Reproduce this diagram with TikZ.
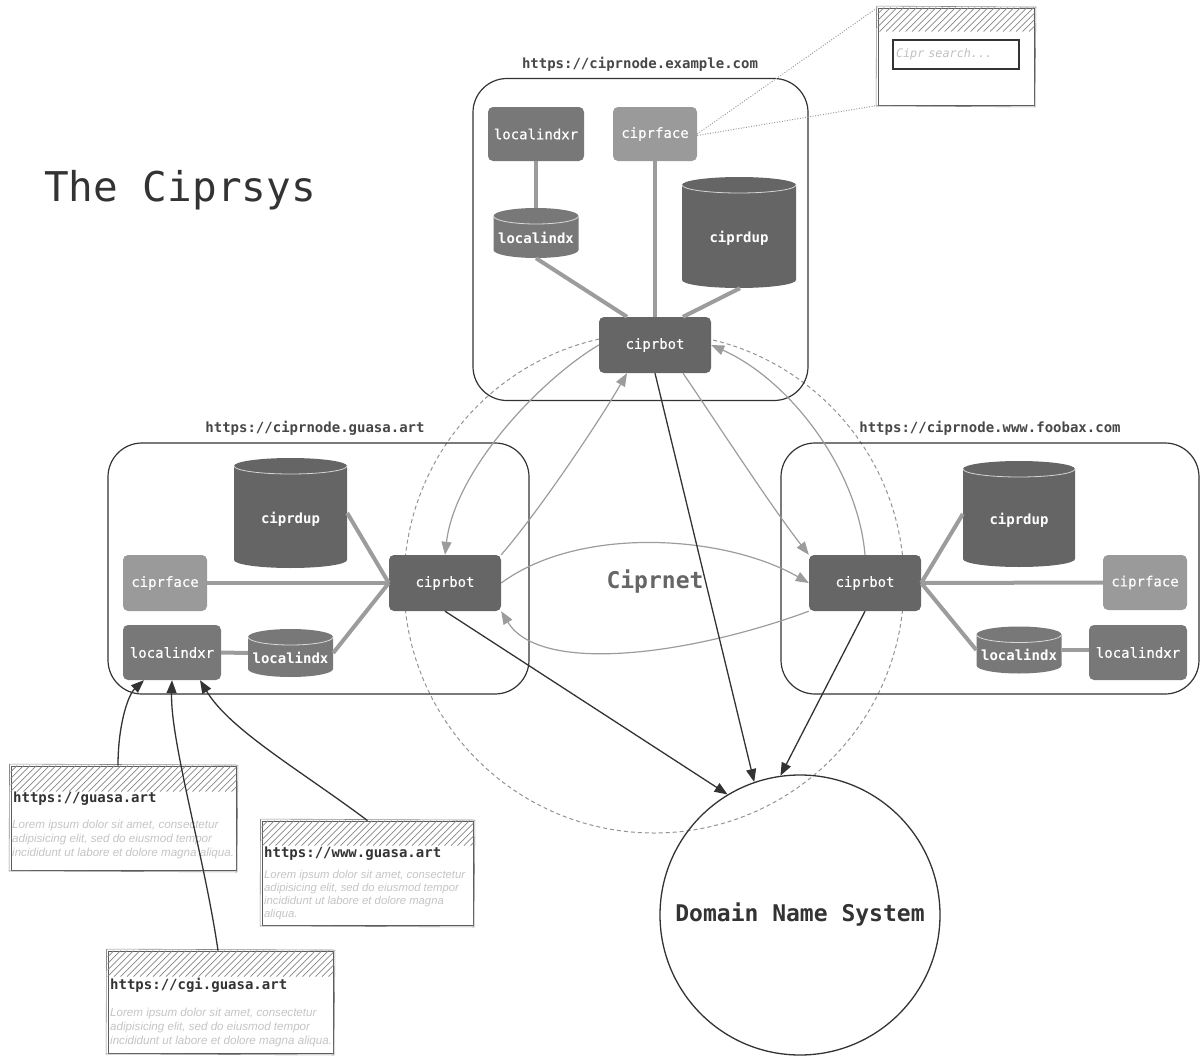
\documentclass[tikz,border=0pt]{standalone}
\usepackage{fontspec}
\setmonofont{DejaVu Sans Mono}
\newfontfamily\lorem{Liberation Sans}
\newfontfamily\labelfont[FakeBold=0.25]{DejaVu Sans Mono}
\usetikzlibrary{arrows.meta,calc}

\definecolor{ink}{HTML}{333333}
\definecolor{botgray}{HTML}{666666}
\definecolor{dupgray}{HTML}{656565}
\definecolor{idxgray}{HTML}{787878}
\definecolor{facegray}{HTML}{9A9A9A}
\definecolor{linkgray}{HTML}{9C9C9C}
\definecolor{faint}{HTML}{C4C4C4}

\tikzset{
  svc/.style n args={3}{rectangle, rounded corners=5pt, fill=#3, text=white,
    minimum width=#1pt, minimum height=#2pt, inner sep=0pt,
    font=\labelfont\fontsize{14}{16}\selectfont},
  store/.style n args={3}{rectangle, minimum width=#1pt, minimum height=#2pt,
    inner sep=0pt, text=white, text height=24pt, text depth=4pt,
    font=\ttfamily\bfseries\fontsize{14}{16}\selectfont,
    path picture={
      \fill[#3] ([yshift=-8pt]path picture bounding box.north west)
        -- ([yshift=8pt]path picture bounding box.south west)
        arc[start angle=180, end angle=360, x radius=#1*0.5pt, y radius=8pt]
        -- ([yshift=-8pt]path picture bounding box.north east)
        arc[start angle=0, end angle=180, x radius=#1*0.5pt, y radius=8pt] -- cycle;
      \draw[white!72!#3, line width=0.8pt]
        ([yshift=-8pt]path picture bounding box.north west)
        arc[start angle=180, end angle=360, x radius=#1*0.5pt, y radius=8pt];
    }},
  frame/.style n args={2}{rectangle, draw=ink, line width=1.2pt, rounded corners=34pt,
    minimum width=#1pt, minimum height=#2pt, inner sep=0pt},
  hostlabel/.style={font=\ttfamily\bfseries\fontsize{14}{16}\selectfont, text=ink!90},
  link/.style={draw=linkgray, line width=4pt},
  net/.style={draw=linkgray, line width=1.2pt, -{Triangle[length=13pt,width=10pt]}},
  dnsarrow/.style={draw=ink, line width=1.3pt, -{Triangle[length=13pt,width=10pt]}},
  site/.style n args={2}{rectangle, draw=ink!80, line width=0.9pt,
    minimum width=#1pt, minimum height=#2pt, inner sep=0pt},
  sitetitle/.style={font=\ttfamily\bfseries\fontsize{14}{16}\selectfont, text=ink,
    anchor=west, inner sep=0pt},
  sitetext/.style={font=\lorem\itshape\fontsize{11.6}{14}\selectfont, text=faint,
    anchor=west, align=left, inner sep=0pt},
  hatch/.style={draw=black!48, line width=0.8pt},
  peek/.style={draw=linkgray, line width=1pt, dash pattern=on 1pt off 1.6pt},
}

% diagonal hatching in the top band of a node
\newcommand\hatchband[2]{%
  \begin{scope}
    \clip (#1.north west) rectangle ([yshift=-#2pt]#1.north east);
    \foreach \k in {0,...,42}{
      \draw[hatch] ([xshift={\k*6.5pt-#2pt}, yshift=-#2pt]#1.north west) -- ++(#2,-#2);
    }
  \end{scope}}

% light second stroke for a hand-drawn outline
\newcommand\sketchline[1]{%
  \draw[black!45, line width=0.6pt]
    ([shift={(-1pt,1.5pt)}]#1.north west) -- ([shift={(1.5pt,0.5pt)}]#1.north east)
    -- ([shift={(0.5pt,-1.5pt)}]#1.south east) -- ([shift={(-1.5pt,-0.5pt)}]#1.south west) -- cycle;}

\begin{document}
\begin{tikzpicture}[x=1pt, y=-1pt]
\useasboundingbox (0,0) rectangle (1200,1057);

% ---------- title ----------
\node[font=\ttfamily\fontsize{41}{46}\selectfont, text=ink] (title) at (180,190) {The Ciprsys};

% ---------- Ciprnet ring ----------
\node[circle, draw=black!42, line width=1pt, dash pattern=on 4pt off 3pt,
      minimum size=500pt, inner sep=0pt] (ring) at (654,583) {};
\node[font=\ttfamily\bfseries\fontsize{23}{26}\selectfont, text=botgray] (ciprnet) at (655,582) {Ciprnet};

% ---------- DNS ----------
\node[circle, draw=ink, line width=1.3pt, minimum size=280pt, inner sep=0pt,
      font=\ttfamily\bfseries\fontsize{23}{26}\selectfont, text=ink] (dns) at (800,915) {Domain Name System};

% ---------- node: ciprnode.example.com ----------
\node[frame={335}{322}] (tframe) at (640.5,239.5) {};
\node[hostlabel] (thost) at (640,64) {https://ciprnode.example.com};
\node[svc={96}{54}{idxgray}] (txr) at (536,134) {localindxr};
\node[svc={84}{54}{facegray}] (tface) at (655,134) {ciprface};
\node[store={85}{50}{idxgray}] (tx) at (536,233) {localindx};
\node[store={114}{111}{dupgray}] (tdup) at (739,232.5) {ciprdup};
\node[svc={112}{56}{botgray}] (tbot) at (655,345) {ciprbot};

\draw[link] (txr.south) -- (tx.north);
\draw[link] (tx.south) -- ([xshift=-28pt]tbot.north);
\draw[link] (tface.south) -- (tbot.north);
\draw[link] ([xshift=1pt]tdup.south) -- ([xshift=28pt]tbot.north);

% ---------- node: ciprnode.guasa.art ----------
\node[frame={421}{251}] (lframe) at (318.5,568.5) {};
\node[hostlabel] (lhost) at (315,428) {https://ciprnode.guasa.art};
\node[store={113}{110}{dupgray}] (ldup) at (290.5,513) {ciprdup};
\node[svc={84}{56}{facegray}] (lface) at (165,583) {ciprface};
\node[svc={98}{55}{idxgray}] (lxr) at (172,652.5) {localindxr};
\node[store={85}{48}{idxgray}] (lx) at (290.5,653) {localindx};
\node[svc={112}{56}{botgray}] (lbot) at (445,583) {ciprbot};

\draw[link] (ldup.east) -- (lbot.west);
\draw[link] (lface.east) -- (lbot.west);
\draw[link] (lx.east) -- (lbot.west);
\draw[link] (lxr.east) -- (lx.west);

% ---------- node: ciprnode.www.foobax.com ----------
\node[frame={418}{251}] (rframe) at (990,568.5) {};
\node[hostlabel] (rhost) at (990,428) {https://ciprnode.www.foobax.com};
\node[svc={112}{56}{botgray}] (rbot) at (865,583) {ciprbot};
\node[store={112}{106}{dupgray}] (rdup) at (1019,514) {ciprdup};
\node[svc={84}{55}{facegray}] (rface) at (1145,582.5) {ciprface};
\node[store={85}{47}{idxgray}] (rx) at (1019,650) {localindx};
\node[svc={98}{55}{idxgray}] (rxr) at (1138,652.5) {localindxr};

\draw[link] (rbot.east) -- (rdup.west);
\draw[link] (rbot.east) -- (rface.west);
\draw[link] (rbot.east) -- (rx.west);
\draw[link] (rx.east) -- (rx.east -| rxr.west);

% ---------- Ciprnet traffic ----------
\draw[net] (tbot.west) .. controls (540,380) and (455,470) .. (lbot.north);
\draw[net] (lbot.north east) .. controls (540,510) and (600,420) .. ([xshift=-28pt]tbot.south);
\draw[net] ([xshift=28pt]tbot.south) .. controls (715,420) and (770,505) .. (rbot.north west);
\draw[net] (rbot.north) .. controls (858,470) and (790,380) .. (tbot.east);
\draw[net] (lbot.east) .. controls (580,525) and (725,535) .. (rbot.west);
\draw[net] (rbot.south west) .. controls (690,655) and (540,675) .. (lbot.south east);

% ---------- lookups against DNS ----------
\draw[dnsarrow] (lbot.south) -- (dns.121);
\draw[dnsarrow] (tbot.south) -- (dns.109);
\draw[dnsarrow] (rbot.south) -- (dns.98);

% ---------- search page mock-up ----------
\node[rectangle, draw=ink!80, line width=0.9pt, minimum width=156pt, minimum height=97pt,
      inner sep=0pt] (search) at (956,56.5) {};
\hatchband{search}{24}
\sketchline{search}
\node[rectangle, draw=ink, line width=1.2pt, minimum width=126pt, minimum height=29pt,
      text width=120pt, align=left, inner sep=0pt,
      font=\ttfamily\itshape\fontsize{11.8}{13}\selectfont, text=black!25] (searchin) at (956,54.5) {Cipr search...};
\draw[peek] (tface.east) -- (search.north west);
\draw[peek] ([yshift=-1.5pt]tface.east) -- (search.south west);

% ---------- indexed sites ----------
\node[site={225}{104}] (site1) at (123.5,818) {};
\hatchband{site1}{26}
\sketchline{site1}
\node[sitetitle] (s1title) at (13,799) {https://guasa.art};
\node[sitetext] (s1text) at (12,839) {Lorem ipsum dolor sit amet, consectetur\\adipisicing elit, sed do eiusmod tempor\\incididunt ut labore et dolore magna aliqua.};

\node[site={211}{104}] (site2) at (367.5,873) {};
\hatchband{site2}{25}
\sketchline{site2}
\node[sitetitle] (s2title) at (264,854) {https://www.guasa.art};
\node[sitetext, font=\lorem\itshape\fontsize{11.3}{13}\selectfont] (s2text) at (264,895) {Lorem ipsum dolor sit amet, consectetur\\adipisicing elit, sed do eiusmod tempor\\incididunt ut labore et dolore magna\\aliqua.};

\node[site={225}{102}] (site3) at (220.5,1002) {};
\hatchband{site3}{26}
\sketchline{site3}
\node[sitetitle] (s3title) at (110,985) {https://cgi.guasa.art};
\node[sitetext] (s3text) at (110,1027) {Lorem ipsum dolor sit amet, consectetur\\adipisicing elit, sed do eiusmod tempor\\incididunt ut labore et dolore magna aliqua.};

% ---------- sites feeding the indexer ----------
\draw[dnsarrow] ([xshift=-5.5pt]site1.north) .. controls (118,725) and (128,695) .. ([xshift=-28pt]lxr.south);
\draw[dnsarrow] ([xshift=-2.5pt]site3.north) .. controls (205,860) and (170,740) .. (lxr.south);
\draw[dnsarrow] (site2.north) .. controls (300,770) and (230,730) .. ([xshift=28pt]lxr.south);

\end{tikzpicture}
\end{document}
